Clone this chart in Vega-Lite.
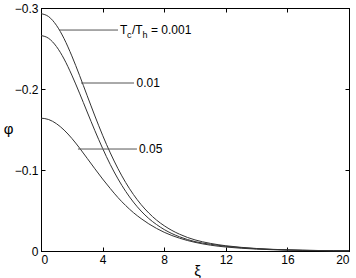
{
  "$schema": "https://vega.github.io/schema/vega-lite/v6.json",
  "width": 308,
  "height": 243,
  "autosize": {"type": "none"},
  "padding": {"left": 41, "top": 8, "right": 7, "bottom": 27},
  "config": {
    "view": {"stroke": "#000000", "strokeWidth": 1},
    "font": "Liberation Sans",
    "axis": {
      "domainColor": "#000000",
      "tickColor": "#000000",
      "tickSize": -4,
      "labelPadding": 7,
      "labelFont": "Liberation Sans",
      "labelFontSize": 12,
      "labelColor": "#000000",
      "grid": false,
      "titleFont": "Liberation Sans",
      "titleFontWeight": "normal",
      "titleColor": "#000000"
    }
  },
  "datasets": {
    "curves": [
      {"r": "0.001", "xi": 0, "phi": -0.293}, {"r": "0.001", "xi": 0.5, "phi": -0.2893}, {"r": "0.001", "xi": 1, "phi": -0.2787}, {"r": "0.001", "xi": 1.5, "phi": -0.2621}, {"r": "0.001", "xi": 2, "phi": -0.2409}, {"r": "0.001", "xi": 2.5, "phi": -0.2169}, {"r": "0.001", "xi": 3, "phi": -0.1917}, {"r": "0.001", "xi": 3.5, "phi": -0.1667}, {"r": "0.001", "xi": 4, "phi": -0.1429}, {"r": "0.001", "xi": 4.5, "phi": -0.1211}, {"r": "0.001", "xi": 5, "phi": -0.1016}, {"r": "0.001", "xi": 5.5, "phi": -0.0845}, {"r": "0.001", "xi": 6, "phi": -0.0698}, {"r": "0.001", "xi": 6.5, "phi": -0.0573}, {"r": "0.001", "xi": 7, "phi": -0.0469}, {"r": "0.001", "xi": 7.5, "phi": -0.0382}, {"r": "0.001", "xi": 8, "phi": -0.0312}, {"r": "0.001", "xi": 8.5, "phi": -0.0254}, {"r": "0.001", "xi": 9, "phi": -0.0207}, {"r": "0.001", "xi": 9.5, "phi": -0.0168}, {"r": "0.001", "xi": 10, "phi": -0.0137}, {"r": "0.001", "xi": 11, "phi": -0.0094}, {"r": "0.001", "xi": 12, "phi": -0.0065}, {"r": "0.001", "xi": 13, "phi": -0.0045}, {"r": "0.001", "xi": 14, "phi": -0.0031}, {"r": "0.001", "xi": 15, "phi": -0.0021}, {"r": "0.001", "xi": 16, "phi": -0.0014}, {"r": "0.001", "xi": 17, "phi": -0.0009}, {"r": "0.001", "xi": 18, "phi": -0.0006}, {"r": "0.001", "xi": 19, "phi": -0.0004}, {"r": "0.001", "xi": 20, "phi": -0.0003},
      {"r": "0.01", "xi": 0, "phi": -0.266}, {"r": "0.01", "xi": 0.5, "phi": -0.2625}, {"r": "0.01", "xi": 1, "phi": -0.2525}, {"r": "0.01", "xi": 1.5, "phi": -0.237}, {"r": "0.01", "xi": 2, "phi": -0.2172}, {"r": "0.01", "xi": 2.5, "phi": -0.1949}, {"r": "0.01", "xi": 3, "phi": -0.1716}, {"r": "0.01", "xi": 3.5, "phi": -0.1485}, {"r": "0.01", "xi": 4, "phi": -0.1267}, {"r": "0.01", "xi": 4.5, "phi": -0.1067}, {"r": "0.01", "xi": 5, "phi": -0.089}, {"r": "0.01", "xi": 5.5, "phi": -0.0736}, {"r": "0.01", "xi": 6, "phi": -0.0604}, {"r": "0.01", "xi": 6.5, "phi": -0.0493}, {"r": "0.01", "xi": 7, "phi": -0.0401}, {"r": "0.01", "xi": 7.5, "phi": -0.0327}, {"r": "0.01", "xi": 8, "phi": -0.0265}, {"r": "0.01", "xi": 8.5, "phi": -0.0215}, {"r": "0.01", "xi": 9, "phi": -0.0175}, {"r": "0.01", "xi": 9.5, "phi": -0.0142}, {"r": "0.01", "xi": 10, "phi": -0.0116}, {"r": "0.01", "xi": 11, "phi": -0.0083}, {"r": "0.01", "xi": 12, "phi": -0.0058}, {"r": "0.01", "xi": 13, "phi": -0.0041}, {"r": "0.01", "xi": 14, "phi": -0.0028}, {"r": "0.01", "xi": 15, "phi": -0.0019}, {"r": "0.01", "xi": 16, "phi": -0.0013}, {"r": "0.01", "xi": 17, "phi": -0.0009}, {"r": "0.01", "xi": 18, "phi": -0.0006}, {"r": "0.01", "xi": 19, "phi": -0.0004}, {"r": "0.01", "xi": 20, "phi": -0.0003},
      {"r": "0.05", "xi": 0, "phi": -0.164}, {"r": "0.05", "xi": 0.5, "phi": -0.1623}, {"r": "0.05", "xi": 1, "phi": -0.1572}, {"r": "0.05", "xi": 1.5, "phi": -0.1493}, {"r": "0.05", "xi": 2, "phi": -0.1391}, {"r": "0.05", "xi": 2.5, "phi": -0.1272}, {"r": "0.05", "xi": 3, "phi": -0.1144}, {"r": "0.05", "xi": 3.5, "phi": -0.1015}, {"r": "0.05", "xi": 4, "phi": -0.0889}, {"r": "0.05", "xi": 4.5, "phi": -0.0771}, {"r": "0.05", "xi": 5, "phi": -0.0659}, {"r": "0.05", "xi": 5.5, "phi": -0.0561}, {"r": "0.05", "xi": 6, "phi": -0.0474}, {"r": "0.05", "xi": 6.5, "phi": -0.04}, {"r": "0.05", "xi": 7, "phi": -0.0335}, {"r": "0.05", "xi": 7.5, "phi": -0.0279}, {"r": "0.05", "xi": 8, "phi": -0.0231}, {"r": "0.05", "xi": 8.5, "phi": -0.0191}, {"r": "0.05", "xi": 9, "phi": -0.0158}, {"r": "0.05", "xi": 9.5, "phi": -0.013}, {"r": "0.05", "xi": 10, "phi": -0.0107}, {"r": "0.05", "xi": 11, "phi": -0.0072}, {"r": "0.05", "xi": 12, "phi": -0.0049}, {"r": "0.05", "xi": 13, "phi": -0.0034}, {"r": "0.05", "xi": 14, "phi": -0.0023}, {"r": "0.05", "xi": 15, "phi": -0.0016}, {"r": "0.05", "xi": 16, "phi": -0.0011}, {"r": "0.05", "xi": 17, "phi": -0.0007}, {"r": "0.05", "xi": 18, "phi": -0.0005}, {"r": "0.05", "xi": 19, "phi": -0.0003}, {"r": "0.05", "xi": 20, "phi": -0.0002}
    ],
    "leaders": [
      {"r": "0.001", "x1": 1.17, "x2": 5.0, "y": -0.2728},
      {"r": "0.01", "x1": 2.6, "x2": 6.04, "y": -0.2074},
      {"r": "0.05", "x1": 2.4, "x2": 6.23, "y": -0.1259}
    ],
    "labels": [
      {"r": "0.01", "x": 6.2, "y": -0.2074, "t": "0.01"},
      {"r": "0.05", "x": 6.36, "y": -0.1259, "t": "0.05"}
    ],
    "main": [
      {"x": 5.13, "y": -0.2728}
    ]
  },
  "layer": [
    {
      "data": {"name": "curves"},
      "mark": {"type": "line", "interpolate": "monotone", "color": "#333333", "strokeWidth": 1},
      "encoding": {
        "x": {"field": "xi", "type": "quantitative", "scale": {"domain": [0, 20], "nice": false},
          "axis": {"orient": "bottom", "values": [0, 4, 8, 12, 16, 20], "title": "ξ", "titleFontSize": 15, "titleX": 156, "titleY": 19, "titleBaseline": "middle"}},
        "y": {"field": "phi", "type": "quantitative", "scale": {"domain": [0, -0.3], "nice": false, "zero": false},
          "axis": {"orient": "left", "values": [0, -0.1, -0.2, -0.3], "format": "~f", "title": "φ", "titleFontSize": 15, "titleAngle": 0, "titleX": -33, "titleY": 120, "titleAlign": "center", "titleBaseline": "middle"}},
        "detail": {"field": "r", "type": "nominal"}
      }
    },
    {
      "data": {"name": "leaders"},
      "mark": {"type": "rule", "color": "#555555", "strokeWidth": 1},
      "encoding": {
        "x": {"field": "x1", "type": "quantitative", "axis": {"orient": "top", "values": [0, 4, 8, 12, 16, 20], "labels": false, "title": null}},
        "x2": {"field": "x2"},
        "y": {"field": "y", "type": "quantitative", "axis": {"orient": "right", "values": [0, -0.1, -0.2, -0.3], "labels": false, "title": null}}
      }
    },
    {
      "data": {"name": "labels"},
      "mark": {"type": "text", "align": "left", "baseline": "middle", "fontSize": 12, "font": "Liberation Sans", "color": "#000000"},
      "encoding": {
        "x": {"field": "x", "type": "quantitative", "axis": null},
        "y": {"field": "y", "type": "quantitative", "axis": null},
        "text": {"field": "t"}
      }
    },
    {
      "data": {"name": "main"},
      "mark": {"type": "text", "align": "left", "baseline": "middle", "fontSize": 12, "font": "Liberation Sans", "color": "#000000", "text": "T"},
      "encoding": {"x": {"field": "x", "type": "quantitative", "axis": null}, "y": {"field": "y", "type": "quantitative", "axis": null}}
    },
    {
      "data": {"name": "main"},
      "mark": {"type": "text", "align": "left", "baseline": "middle", "fontSize": 9, "font": "Liberation Sans", "color": "#000000", "text": "c", "dx": 7, "dy": 5},
      "encoding": {"x": {"field": "x", "type": "quantitative", "axis": null}, "y": {"field": "y", "type": "quantitative", "axis": null}}
    },
    {
      "data": {"name": "main"},
      "mark": {"type": "text", "align": "left", "baseline": "middle", "fontSize": 12, "font": "Liberation Sans", "color": "#000000", "text": "/T", "dx": 12},
      "encoding": {"x": {"field": "x", "type": "quantitative", "axis": null}, "y": {"field": "y", "type": "quantitative", "axis": null}}
    },
    {
      "data": {"name": "main"},
      "mark": {"type": "text", "align": "left", "baseline": "middle", "fontSize": 9, "font": "Liberation Sans", "color": "#000000", "text": "h", "dx": 22.5, "dy": 5},
      "encoding": {"x": {"field": "x", "type": "quantitative", "axis": null}, "y": {"field": "y", "type": "quantitative", "axis": null}}
    },
    {
      "data": {"name": "main"},
      "mark": {"type": "text", "align": "left", "baseline": "middle", "fontSize": 12, "font": "Liberation Sans", "color": "#000000", "text": "= 0.001", "dx": 31},
      "encoding": {"x": {"field": "x", "type": "quantitative", "axis": null}, "y": {"field": "y", "type": "quantitative", "axis": null}}
    }
  ],
  "resolve": {"axis": {"x": "independent", "y": "independent"}}
}
